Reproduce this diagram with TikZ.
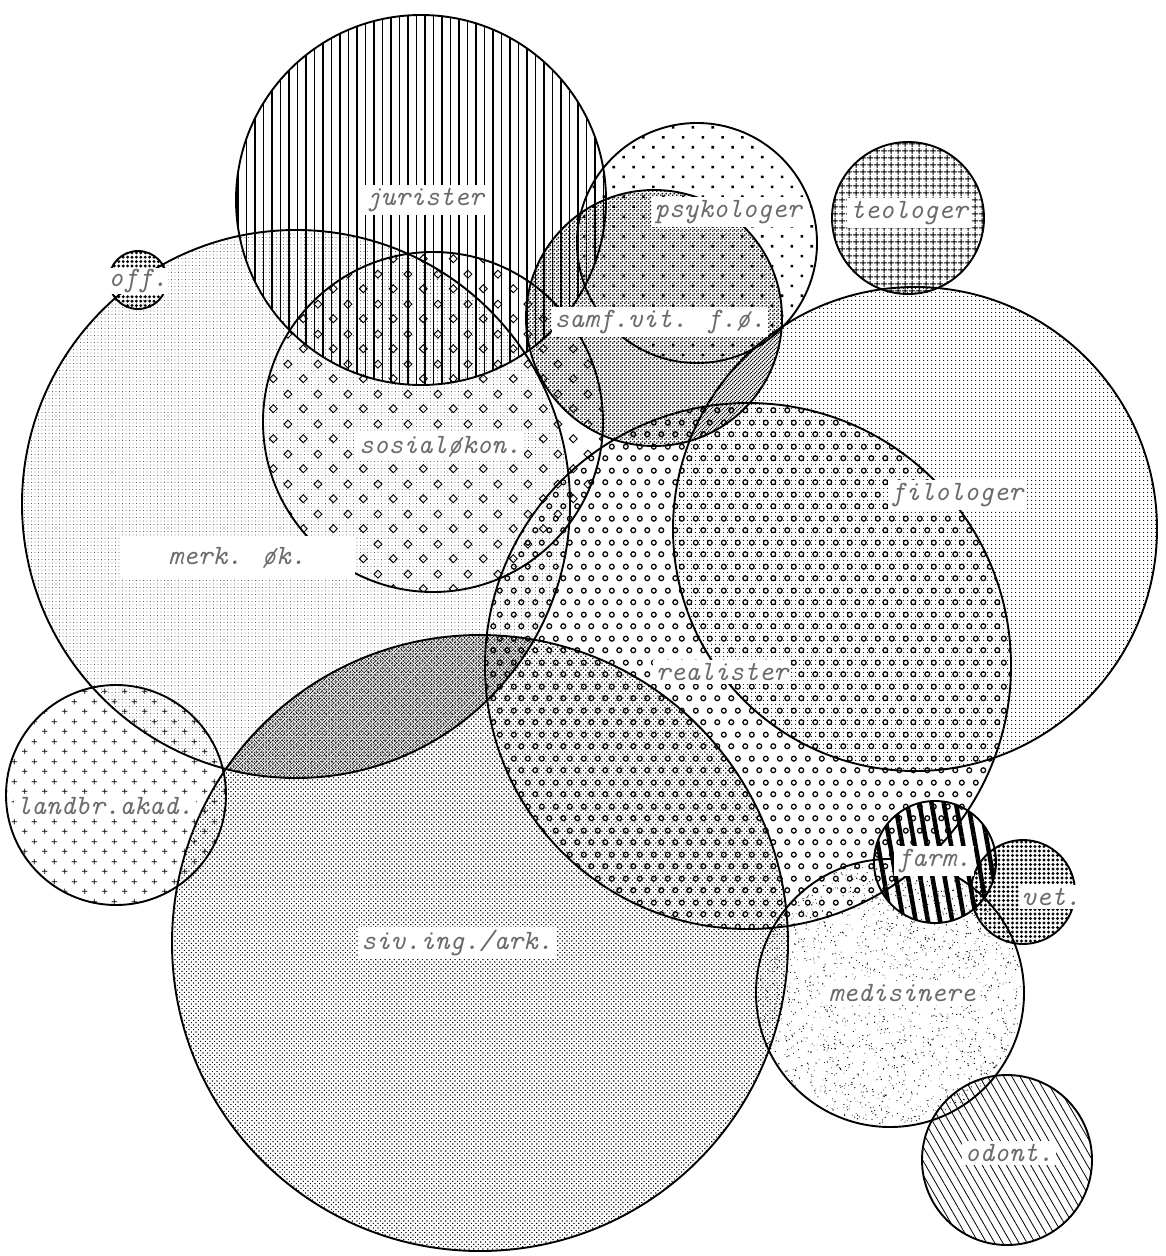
\documentclass[tikz,border=0pt]{standalone}
\usepackage{fontspec}
\usetikzlibrary{patterns,patterns.meta}

\pgfdeclarepatternformonly{rings}{\pgfqpoint{0pt}{0pt}}{\pgfqpoint{14pt}{24pt}}{\pgfqpoint{14pt}{24pt}}{%
  \pgfsetlinewidth{1.3pt}%
  \pgfpathcircle{\pgfqpoint{3.5pt}{6pt}}{2.55pt}%
  \pgfpathcircle{\pgfqpoint{10.5pt}{18pt}}{2.55pt}%
  \pgfusepath{stroke}}

\pgfdeclarepatternformonly{diamonds}{\pgfqpoint{0pt}{0pt}}{\pgfqpoint{29.6pt}{30pt}}{\pgfqpoint{29.6pt}{30pt}}{%
  \pgfsetlinewidth{1pt}%
  \pgfpathmoveto{\pgfqpoint{7.4pt}{3.4pt}}\pgfpathlineto{\pgfqpoint{11.4pt}{7.5pt}}%
  \pgfpathlineto{\pgfqpoint{7.4pt}{11.6pt}}\pgfpathlineto{\pgfqpoint{3.4pt}{7.5pt}}\pgfpathclose
  \pgfpathmoveto{\pgfqpoint{22.2pt}{18.4pt}}\pgfpathlineto{\pgfqpoint{26.2pt}{22.5pt}}%
  \pgfpathlineto{\pgfqpoint{22.2pt}{26.6pt}}\pgfpathlineto{\pgfqpoint{18.2pt}{22.5pt}}\pgfpathclose
  \pgfusepath{stroke}}

\pgfdeclarepatternformonly{pluses}{\pgfqpoint{0pt}{0pt}}{\pgfqpoint{20pt}{20pt}}{\pgfqpoint{20pt}{20pt}}{%
  \pgfsetlinewidth{0.8pt}%
  \pgfpathmoveto{\pgfqpoint{2.2pt}{5pt}}\pgfpathlineto{\pgfqpoint{7.8pt}{5pt}}%
  \pgfpathmoveto{\pgfqpoint{5pt}{2.2pt}}\pgfpathlineto{\pgfqpoint{5pt}{7.8pt}}%
  \pgfpathmoveto{\pgfqpoint{12.2pt}{15pt}}\pgfpathlineto{\pgfqpoint{17.8pt}{15pt}}%
  \pgfpathmoveto{\pgfqpoint{15pt}{12.2pt}}\pgfpathlineto{\pgfqpoint{15pt}{17.8pt}}%
  \pgfusepath{stroke}}

\pgfdeclarepatternformonly{checker}{\pgfqpoint{0pt}{0pt}}{\pgfqpoint{4pt}{4pt}}{\pgfqpoint{4pt}{4pt}}{%
  \pgfpathcircle{\pgfqpoint{1pt}{1pt}}{1.15pt}%
  \pgfpathcircle{\pgfqpoint{3pt}{3pt}}{1.15pt}%
  \pgfusepath{fill}}

\pgfdeclarepatternformonly{lenschecker}{\pgfqpoint{0pt}{0pt}}{\pgfqpoint{3.4pt}{3.4pt}}{\pgfqpoint{3.4pt}{3.4pt}}{%
  \pgfpathcircle{\pgfqpoint{0.85pt}{0.85pt}}{0.72pt}%
  \pgfpathcircle{\pgfqpoint{2.55pt}{2.55pt}}{0.72pt}%
  \pgfusepath{fill}}

\pgfdeclarepatternformonly{grid7}{\pgfqpoint{0pt}{0pt}}{\pgfqpoint{6.5pt}{6.5pt}}{\pgfqpoint{6.5pt}{6.5pt}}{%
  \pgfsetlinewidth{1.1pt}%
  \pgfpathmoveto{\pgfqpoint{3.25pt}{0pt}}\pgfpathlineto{\pgfqpoint{3.25pt}{6.5pt}}%
  \pgfpathmoveto{\pgfqpoint{0pt}{3.25pt}}\pgfpathlineto{\pgfqpoint{6.5pt}{3.25pt}}%
  \pgfusepath{stroke}}

\tikzset{
  disc/.style={circle, inner sep=0pt, draw=black, line width=1.9pt, pattern color=black},
  lab/.style={font=\ttfamily\itshape\fontsize{28}{28}\selectfont, text=black!58,
              fill=white, inner sep=3pt}
}

\begin{document}
\begin{tikzpicture}[x=1pt,y=-1pt]
\fill[white] (0,0) rectangle (1166,1256);
\useasboundingbox (0,0) rectangle (1166,1256);

% medisinere stipple
\pgfmathsetseed{4711}
\foreach \i in {1,...,1900}{
  \pgfmathsetmacro\ang{360*rnd}
  \pgfmathsetmacro\rad{132*sqrt(rnd)}
  \pgfmathsetmacro\ds{0.3+0.45*rnd}
  \fill ({890+\rad*cos(\ang)},{993+\rad*sin(\ang)}) circle (\ds);
}

\node[disc, minimum size=548pt, pattern={Dots[radius=0.45pt, distance=3.5pt]}] (merk) at (296,504) {};
\node[disc, minimum size=616pt, pattern={Dots[radius=0.8pt, distance=3.3pt, angle=45]}] (siv) at (480,943) {};
% darker overlap merk / siv.ing.
\begin{scope}
  \clip (merk.center) circle (274);
  \fill[pattern=lenschecker] (siv.center) circle (308);
\end{scope}
\node[disc, minimum size=484pt, pattern={Dots[radius=0.8pt, distance=4pt]}] (filo) at (915,529) {};
\node[disc, minimum size=526pt, pattern=rings] (real) at (748,666) {};
\node[disc, minimum size=340pt, pattern=diamonds] (sos) at (433,422) {};
\node[disc, minimum size=370pt, pattern={Lines[angle=90, distance=8.5pt, line width=1.5pt]}] (jur) at (421,200) {};
\node[disc, minimum size=240pt, pattern={Dots[radius=1.8pt, distance=14pt, angle=45]}] (psy) at (697,243) {};
\node[disc, minimum size=256pt, pattern=checker] (samf) at (654,318) {};
\node[disc, minimum size=152pt, pattern=grid7] (teo) at (908,218) {};
\node[disc, minimum size=58pt, pattern={Dots[radius=1.6pt, distance=4.4pt]}] (off) at (138,280) {};
\node[disc, minimum size=220pt, pattern=pluses] (land) at (116,795) {};
\node[disc, minimum size=122pt, pattern={Lines[angle=100, distance=12pt, line width=4.5pt]}] (farm) at (935,862) {};
\node[disc, minimum size=104pt, pattern={Dots[radius=1.7pt, distance=4.5pt]}] (vet) at (1023,892) {};
\node[disc, minimum size=268pt] (med) at (890,993) {};
\node[disc, minimum size=170pt, pattern={Lines[angle=-60, distance=7pt, line width=0.8pt]}] (odo) at (1007,1160) {};

% labels
\node[lab] (ljur) at (425,200) {jurister};
\node[lab] (lpsy) at (728,212) {psykologer};
\node[lab] (lteo) at (909,213) {teologer};
\node[lab, inner sep=1pt] (loff) at (138,281) {off.};
\node[lab] (lsamf) at (660,322) {samf.vit. f.ø.};
\node[lab] (lsos) at (440,447) {sosialøkon.};
\node[lab, minimum width=235pt, minimum height=44pt] (lmerk) at (237,558) {merk. øk.};
\node[lab] (lfilo) at (957,495) {filologer};
\node[lab] (lreal) at (722,672) {realister};
\node[lab] (lland) at (105,806) {landbr.akad.};
\node[lab] (lsiv) at (457,943) {siv.ing./ark.};
\node[lab] (lfarm) at (934,861) {farm.};
\node[lab] (lvet) at (1051,897) {vet.};
\node[lab] (lmed) at (902,993) {medisinere};
\node[lab] (lodo) at (1009,1153) {odont.};
\end{tikzpicture}
\end{document}
